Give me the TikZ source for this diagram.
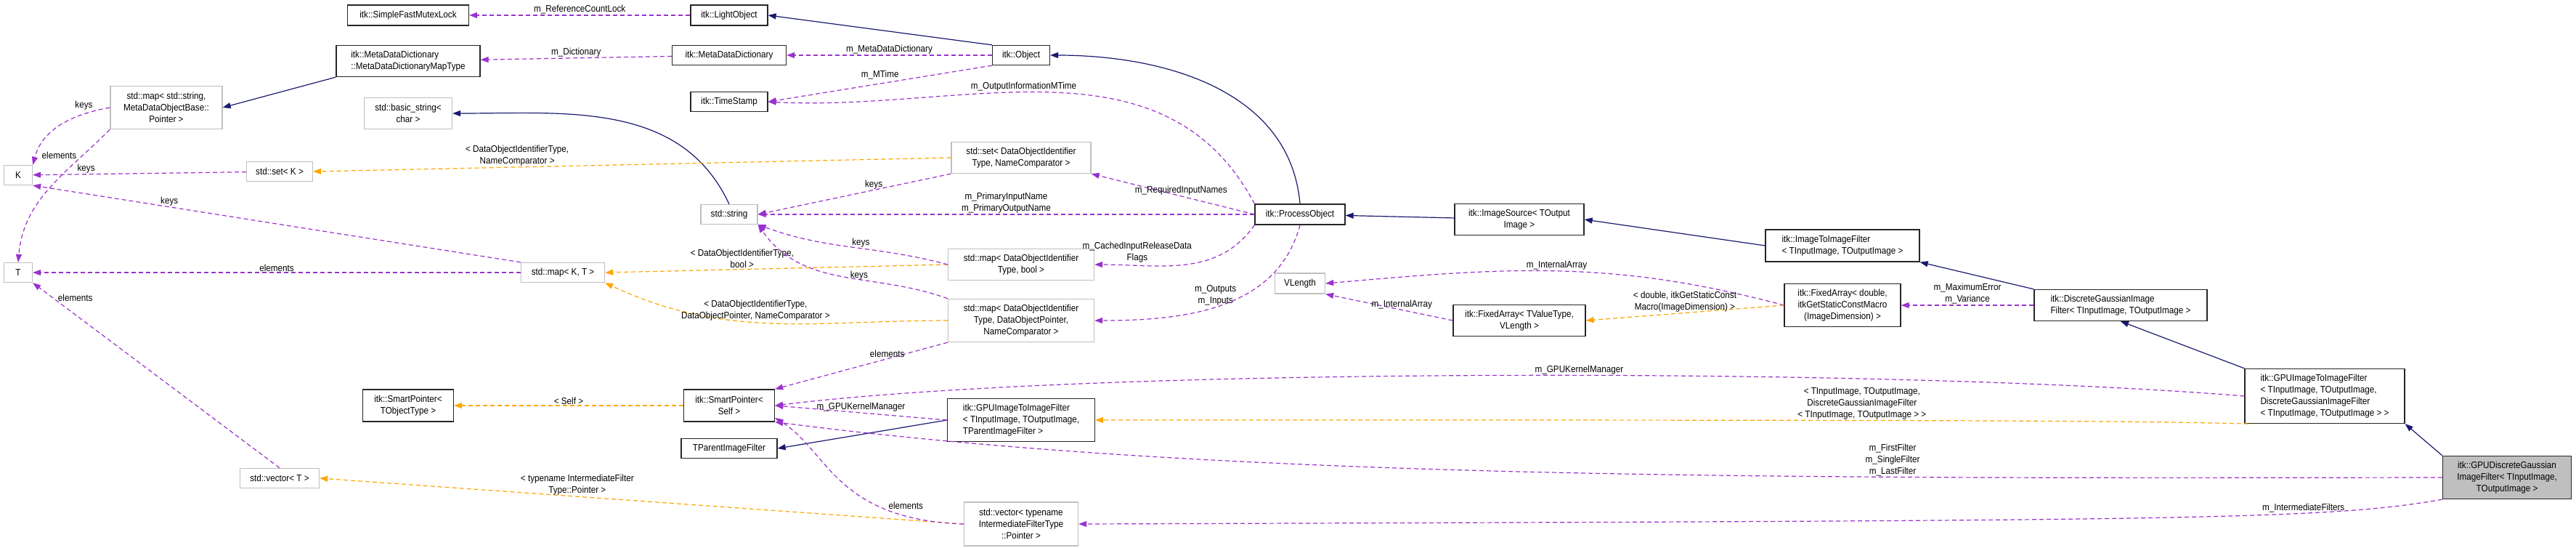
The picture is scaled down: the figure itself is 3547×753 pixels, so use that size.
\documentclass[tikz,border=0pt]{standalone}
\usepackage{fontspec}
\setmainfont{Liberation Sans}[FakeStretch=0.9]
\usetikzlibrary{arrows.meta,positioning}
\definecolor{inhcol}{HTML}{191970}
\definecolor{usecol}{HTML}{9A32CD}
\definecolor{tplcol}{HTML}{FFA500}
\definecolor{extcol}{HTML}{BFBFBF}
\tikzset{
  box/.style 2 args={rectangle, inner sep=2pt, align=center, minimum width=#1pt, minimum height=#2pt,
    font=\fontsize{13}{16}\selectfont},
  cls/.style={draw=black!85, line width=1.3pt},
  ext/.style={draw=extcol, line width=1.3pt},
  lbl/.style={font=\fontsize{13}{16}\selectfont, align=center, inner sep=1pt},
  inh/.style={line width=1.2pt, draw=inhcol, -{Triangle[length=11pt,width=8pt,fill=inhcol]}},
  use/.style={line width=1.2pt, draw=usecol, dash pattern=on 6pt off 4pt, -{Triangle[length=11pt,width=8pt,fill=usecol]}},
  tpl/.style={line width=1.2pt, draw=tplcol, dash pattern=on 6pt off 4pt, -{Triangle[length=11pt,width=8pt,fill=tplcol]}}
}
\begin{document}
\begin{tikzpicture}[x=1pt,y=1pt]
\useasboundingbox (0,0) rectangle (3547,-753);
% left column
\node[box={39}{27},ext] (nk) at (25,-241) {K};
\node[box={39}{27},ext] (nt) at (25,-375) {T};
\node[box={154}{59},ext] (strmap) at (229,-148) {std::map< std::string,\\MetaDataObjectBase::\\Pointer >};
\node[box={91}{27},ext] (setk) at (385,-236) {std::set< K >};
\node[box={109}{27},ext] (vect) at (385,-658) {std::vector< T >};
\node[box={167}{28},cls] (mutex) at (562,-21) {itk::SimpleFastMutexLock};
\node[box={198}{43},cls,align=left] (mddmap) at (562,-84) {itk::MetaDataDictionary\\::MetaDataDictionaryMapType};
\node[box={121}{43},ext] (bstr) at (562,-156) {std::basic\_string<\\char >};
\node[box={115}{27},ext] (mapkt) at (775,-375) {std::map< K, T >};
\node[box={125}{44},cls] (sptobj) at (562,-558) {itk::SmartPointer<\\TObjectType >};
% second column
\node[box={106}{28},cls] (light) at (1004,-21) {itk::LightObject};
\node[box={157}{27},cls] (mdd) at (1004,-76) {itk::MetaDataDictionary};
\node[box={106}{27},cls] (tstamp) at (1004,-140) {itk::TimeStamp};
\node[box={78}{27},ext] (str) at (1004,-295) {std::string};
\node[box={125}{44},cls] (sptself) at (1004,-558) {itk::SmartPointer<\\Self >};
\node[box={132}{27},cls] (tparent) at (1004,-617) {TParentImageFilter};
% third column
\node[box={79}{27},cls] (obj) at (1406,-76) {itk::Object};
\node[box={192}{43},ext] (setid) at (1406,-217) {std::set< DataObjectIdentifier\\Type, NameComparator >};
\node[box={201}{43},ext] (mapbool) at (1406,-364) {std::map< DataObjectIdentifier\\Type, bool >};
\node[box={201}{59},ext] (mapptr) at (1406,-441) {std::map< DataObjectIdentifier\\Type, DataObjectPointer,\\NameComparator >};
\node[box={203}{59},cls,align=left] (gpuitip) at (1406,-578) {itk::GPUImageToImageFilter\\< TInputImage, TOutputImage,\\TParentImageFilter >};
\node[box={157}{60},ext] (vecif) at (1406,-721) {std::vector< typename\\IntermediateFilterType\\::Pointer >};
% right part
\node[box={124}{28},cls] (procobj) at (1790,-295) {itk::ProcessObject};
\node[box={69}{28},ext] (vlen) at (1790,-390) {VLength};
\node[box={178}{43},cls] (imgsrc) at (2092,-302) {itk::ImageSource< TOutput\\Image >};
\node[box={182}{43},cls] (favt) at (2092,-441) {itk::FixedArray< TValueType,\\VLength >};
\node[box={212}{44},cls,align=left] (itoi) at (2537,-338) {itk::ImageToImageFilter\\< TInputImage, TOutputImage >};
\node[box={160}{59},cls] (fadbl) at (2537,-420) {itk::FixedArray< double,\\itkGetStaticConstMacro\\(ImageDimension) >};
\node[box={238}{43},cls,align=left] (dgauss) at (2920,-420) {itk::DiscreteGaussianImage\\Filter< TInputImage, TOutputImage >};
\node[box={220}{75},cls,align=left] (gpuitid) at (3201,-545) {itk::GPUImageToImageFilter\\< TInputImage, TOutputImage,\\DiscreteGaussianImageFilter\\< TInputImage, TOutputImage > >};
\node[box={177}{59},cls,fill=extcol] (gpudg) at (3452,-657) {itk::GPUDiscreteGaussian\\ImageFilter< TInputImage,\\TOutputImage >};

% std containers
\draw[use] (light) -- node[lbl,above]{m\_ReferenceCountLock} (mutex);
\draw[use] (mdd) -- node[lbl,above]{m\_Dictionary} (mddmap);
\draw[inh] (mddmap.south west) -- (strmap.east);
\draw[use] (strmap.west) to[out=190,in=75] node[lbl,pos=.15,above left]{keys} (nk.north east);
\draw[use] (strmap.south west) to[out=225,in=85] node[lbl,pos=.25,above left]{elements} (nt.north);
\draw[use] (setk) -- node[lbl,above,pos=.75]{keys} (nk);
\draw[use] (mapkt.north west) -- node[lbl,above,pos=.72]{keys} (nk.south east);
\draw[use] (mapkt) -- node[lbl,above]{elements} (nt);
\draw[use] (vect.north) -- node[lbl,pos=.92,right=6pt]{elements} (nt.south east);
\draw[inh] (str.north) to[out=115,in=0] (bstr.east);
% object
\draw[inh] (obj.north west) -- (light.east);
\draw[use] (obj) -- node[lbl,above]{m\_MetaDataDictionary} (mdd);
\draw[use] (obj.south west) -- node[lbl,above=4pt]{m\_MTime} (tstamp.east);
\draw[inh] (procobj.north) to[out=95,in=0] (obj.east);
\draw[use] (procobj.north west) to[out=118,in=-3] node[lbl,pos=.55,above]{m\_OutputInformationMTime} (tstamp.east);
\draw[use] (procobj.west) -- node[lbl,above,pos=.45]{m\_RequiredInputNames} (setid.south east);
\draw[use] (procobj) -- node[lbl,above,pos=.5]{m\_PrimaryInputName\\m\_PrimaryOutputName} (str);
\draw[use] (procobj.south west) to[out=235,in=0] node[lbl,pos=.45,above left]{m\_CachedInputReleaseData\\Flags} (mapbool.east);
\draw[use] (procobj.south) to[out=255,in=0] node[lbl,pos=.4,left=8pt]{m\_Outputs\\m\_Inputs} (mapptr.east);
\draw[tpl] (setid.west) -- node[lbl,above,pos=.68]{< DataObjectIdentifierType,\\NameComparator >} (setk.east);
\draw[use] (setid.south west) -- node[lbl,above,pos=.4]{keys} (str.east);
\draw[tpl] (mapbool.west) -- node[lbl,above,pos=.6]{< DataObjectIdentifierType,\\bool >} (mapkt.east);
\draw[use] (mapbool.west) to[out=165,in=-20] node[lbl,above,pos=.45]{keys} (str.south east);
\draw[tpl] (mapptr.west) to[out=180,in=-25] node[lbl,above,pos=.55]{< DataObjectIdentifierType,\\DataObjectPointer, NameComparator >} (mapkt.south east);
\draw[use] (mapptr.north west) to[out=160,in=-55] node[lbl,right=10pt,pos=.5]{keys} (str.south east);
\draw[use] (mapptr.south west) -- node[lbl,above,pos=.35]{elements} (sptself.north east);
% filter chain
\draw[inh] (imgsrc) -- (procobj);
\draw[inh] (itoi.west) -- (imgsrc.east);
\draw[inh] (dgauss.north west) -- (itoi.south east);
\draw[inh] (gpuitid.north west) -- (dgauss.south);
\draw[inh] (gpudg.north west) -- (gpuitid.south east);
\draw[use] (fadbl.west) to[out=165,in=5] node[lbl,above]{m\_InternalArray} (vlen.east);
\draw[use] (favt.west) -- node[lbl,above,pos=.4]{m\_InternalArray} (vlen.south east);
\draw[tpl] (fadbl.west) -- node[lbl,above]{< double, itkGetStaticConst\\Macro(ImageDimension) >} (favt.east);
\draw[use] (dgauss) -- node[lbl,above]{m\_MaximumError\\m\_Variance} (fadbl);
% gpu part
\draw[use] (gpuitid.west) .. controls (2600,-505) and (1500,-505) .. node[lbl,above,pos=.45]{m\_GPUKernelManager} (sptself.east);
\draw[tpl] (gpuitid.200) .. controls (2900,-578) and (2600,-578) .. node[lbl,above,pos=.55]{< TInputImage, TOutputImage,\\DiscreteGaussianImageFilter\\< TInputImage, TOutputImage > >} (gpuitip.east);
\draw[inh] (gpuitip.west) -- (tparent.east);
\draw[use] (gpuitip.west) -- node[lbl,above]{m\_GPUKernelManager} (sptself.east);
\draw[tpl] (sptself) -- node[lbl,above]{< Self >} (sptobj);
\draw[use] (gpudg.west) .. controls (2500,-658) and (1700,-662) .. node[lbl,above,pos=.3]{m\_FirstFilter\\m\_SingleFilter\\m\_LastFilter} (sptself.south east);
\draw[use] (gpudg.south west) .. controls (3200,-716) and (3000,-716) .. node[lbl,above,pos=.3]{m\_IntermediateFilters} (vecif.east);
\draw[tpl] (vecif.west) -- node[lbl,above,pos=.6]{< typename IntermediateFilter\\Type::Pointer >} (vect.east);
\draw[use] (vecif.west) .. controls (1150,-715) and (1140,-620) .. node[lbl,above right,pos=.25]{elements} (sptself.-15);
\end{tikzpicture}
\end{document}
